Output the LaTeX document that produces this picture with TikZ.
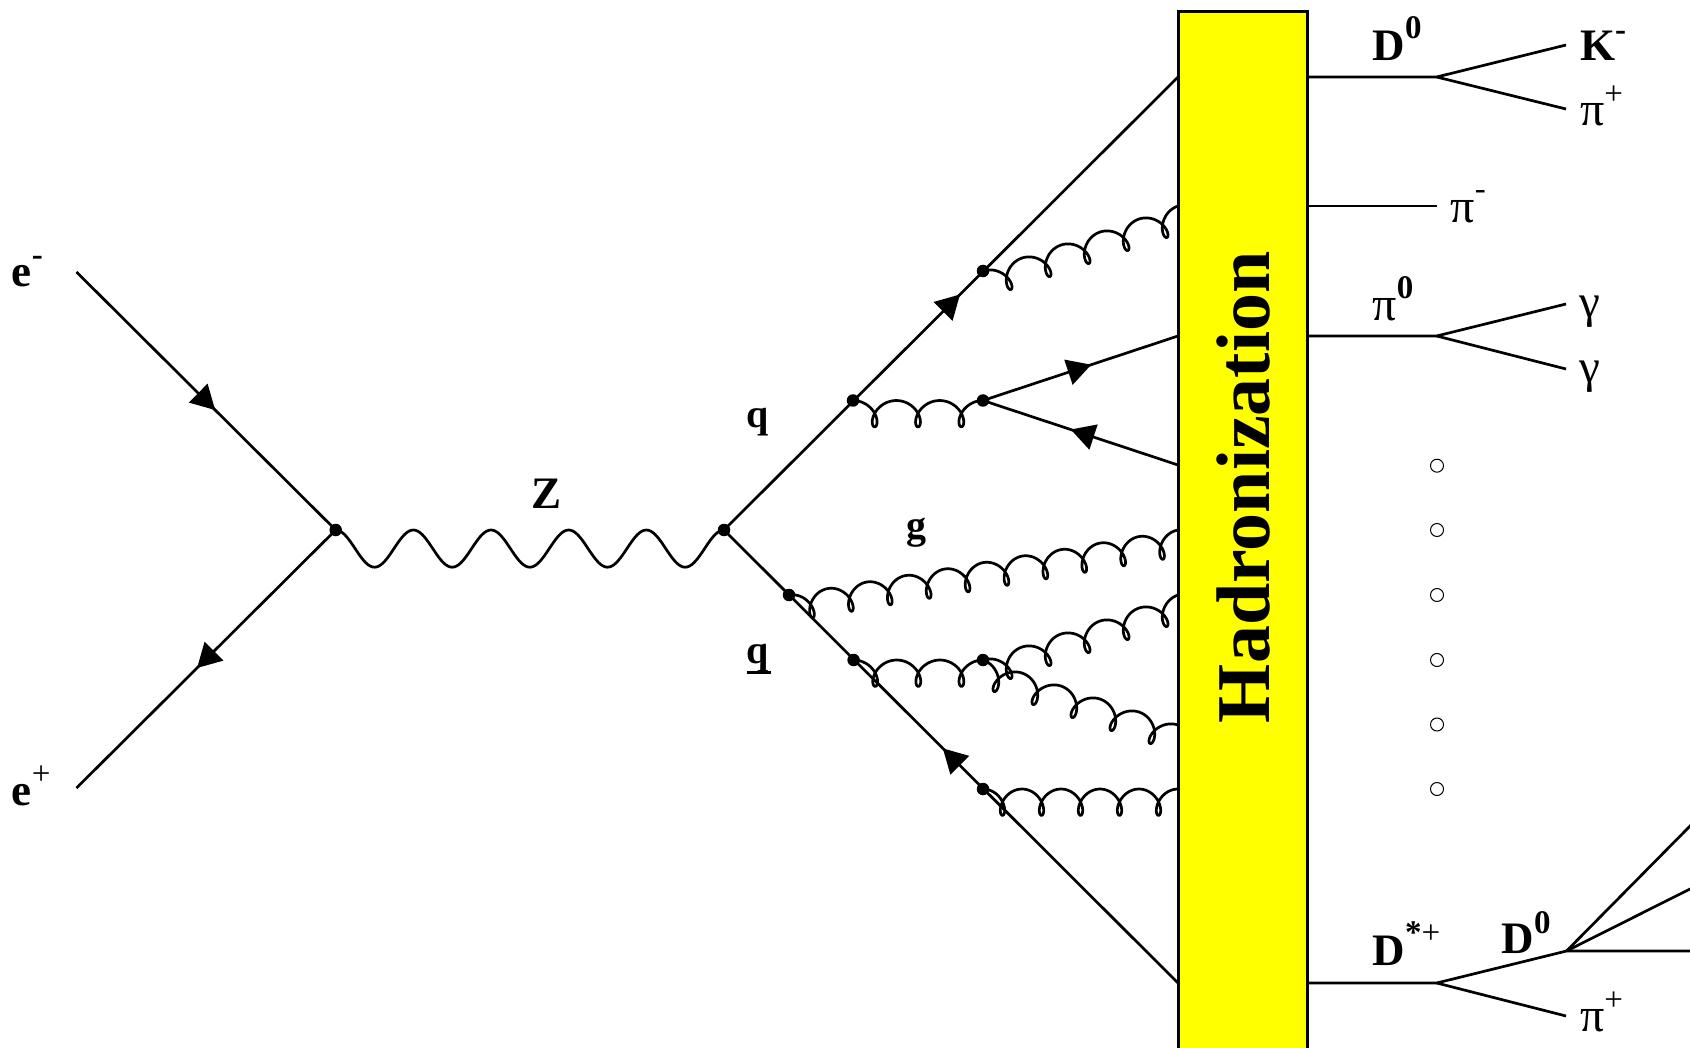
\documentclass[tikz,border=0pt]{standalone}
\usepackage{fontspec}
\setmainfont{Liberation Serif}
\usetikzlibrary{calc,arrows.meta,decorations.markings}
\definecolor{hadyellow}{RGB}{255,255,0}
\tikzset{
  feyn/.style={line width=2.7pt,line join=round,line cap=butt,black},
  qarrow/.style={postaction={decorate,decoration={markings,mark=at position #1 with {\arrow{Triangle[length=24pt,width=26pt]}}}}},
  vtx/.style={circle,fill=black,inner sep=0pt,minimum size=12.5pt},
  hollow/.style={circle,draw=black,fill=white,line width=1pt,inner sep=0pt,minimum size=13pt},
  lab/.style={anchor=base west,inner sep=0pt,outer sep=0pt,font=\fontsize{48}{48}\selectfont},
  lgam/.style={lab,font=\fontsize{47}{47}\selectfont},
  bl/.style={lab,font=\fontsize{45}{45}\selectfont\bfseries},
  blq/.style={lab,font=\fontsize{40}{40}\selectfont\bfseries},
}
\newcommand\supr[2][24pt]{\raisebox{#1}{\fontsize{33}{33}\selectfont #2}}
\newcommand\wavy[5]{%
  \path let \p1=($(#2.center)-(#1.center)$),\n1={atan2(\y1,\x1)},\n2={veclen(\x1,\y1)} in
    \pgfextra{\xdef\wang{\n1}\xdef\wlen{\n2}};
  \pgfmathsetmacro\wa{\wlen/(2*pi*#3)}%
  \pgfmathtruncatemacro\wsm{36*#3+1}%
  \begin{scope}[shift={(#1.center)},rotate=\wang,x=1pt,y=1pt]
    \draw[feyn] plot[domain=0:2*pi*#3,samples=\wsm,variable=\t] ({\wa*\t+#5*\wa*sin(\t r)},{-#4*(1-cos(\t r))});
  \end{scope}}
\newcommand\gluon[3]{\wavy{#1}{#2}{#3}{13.2}{1.6}}
\begin{document}
\begin{tikzpicture}[x=1pt,y=-1pt]
\useasboundingbox (0,0) rectangle (1690,1048);
\clip (0,0) rectangle (1690,1048);
% hadronization block
\node[draw=black,fill=hadyellow,line width=3pt,minimum width=129pt,minimum height=1100pt,inner sep=0pt,outer sep=0pt,anchor=north west] (hadron) at (1178,11.5) {};
\node[bl,rotate=90,font=\fontsize{76}{76}\selectfont\bfseries] (hadtext) at (1269,723) {Hadronization};
% vertices
\node[vtx] (vl) at (335.7,530) {};
\node[vtx] (vr) at (724,530) {};
\node[vtx] (a1) at (853,400.5) {};
\node[vtx] (a2) at (983,271) {};
\node[vtx] (a3) at (983,400.5) {};
\node[vtx] (b1) at (789,595) {};
\node[vtx] (b2) at (853.6,660) {};
\node[vtx] (b3) at (983,660) {};
\node[vtx] (b4) at (983,789) {};
% free ends
\coordinate (ein) at (76.5,272);
\coordinate (pin) at (76.5,788);
\coordinate (qt) at (1178,77);
\coordinate (qb) at (1178,983);
\coordinate (h1) at (1178,206);
\coordinate (h2) at (1178,336);
\coordinate (h3) at (1178,465);
\coordinate (h4) at (1178,530);
\coordinate (h5) at (1178,595);
\coordinate (h6) at (1178,725);
\coordinate (h7) at (1178,789);
% fermions
\draw[feyn,qarrow=0.535] (ein) -- (vl.center);
\draw[feyn,qarrow=0.535] (vl.center) -- (pin);
\draw[feyn,qarrow=0.52] (vr.center) -- (qt);
\draw[feyn,qarrow=0.518] (qb) -- (vr.center);
\draw[feyn,qarrow=0.555] (a3.center) -- (h2);
\draw[feyn,qarrow=0.55] (h3) -- (a3.center);
% Z
\wavy{vl}{vr}{5}{18.6}{0}
% gluons
\gluon{a1}{a3}{3}
\gluon{a2}{h1}{5}
\gluon{b1}{h4}{10}
\gluon{b2}{b3}{3}
\gluon{b3}{h5}{5}
\gluon{b3}{h6}{5}
\gluon{b4}{h7}{5}
% decays
\coordinate (d1) at (1307,77);
\coordinate (d1v) at (1436.7,77);
\coordinate (d1a) at (1566,45);
\coordinate (d1b) at (1566,109);
\draw[feyn] (d1) -- (d1v) -- (d1a);
\draw[feyn] (d1v) -- (d1b);
\coordinate (d2) at (1307,206);
\coordinate (d2e) at (1436.7,206);
\draw[feyn] (d2) -- (d2e);
\coordinate (d3) at (1307,336);
\coordinate (d3v) at (1436.7,336);
\coordinate (d3a) at (1566,304);
\coordinate (d3b) at (1566,369);
\draw[feyn] (d3) -- (d3v) -- (d3a);
\draw[feyn] (d3v) -- (d3b);
\coordinate (d4) at (1307,983);
\coordinate (d4v) at (1436.7,983);
\coordinate (d4a) at (1566.5,951);
\coordinate (d4b) at (1566,1016);
\coordinate (d4c) at (1695,951);
\coordinate (d4d) at (1695,886.5);
\coordinate (d4e) at (1695,821);
\draw[feyn] (d4) -- (d4v) -- (d4a) -- (d4c);
\draw[feyn] (d4v) -- (d4b);
\draw[feyn] (d4a) -- (d4d);
\draw[feyn] (d4a) -- (d4e);
% hollow dots
\node[hollow] (o1) at (1437,465.7) {};
\node[hollow] (o2) at (1437,530) {};
\node[hollow] (o3) at (1437,595) {};
\node[hollow] (o4) at (1437,660) {};
\node[hollow] (o5) at (1437,724.5) {};
\node[hollow] (o6) at (1437,789) {};
% labels
\node[bl] (le) at (12,287) {e\supr[21pt]{-}};
\node[bl] (lp) at (12,805) {e\supr[21pt]{\mdseries +}};
\node[bl] (lz) at (531.7,508) {Z};
\node[blq] (lg) at (906.7,538) {g};
\node[blq] (lq) at (746.7,428) {q};
\node[blq] (lqb) at (746.7,663) {\rlap{\rule[-10.5pt]{24pt}{3pt}}q};
\node[bl] (ld1) at (1372.7,61) {D\supr[22pt]{0}};
\node[bl] (lk) at (1580,61) {K\supr[20pt]{-}};
\node[lab] (lp1) at (1580,126) {π\supr[21pt]{+}};
\node[lab] (lpm) at (1450.7,223) {π\supr[23pt]{-}};
\node[lab] (lp0) at (1372.7,320.7) {π\supr[22pt]{\bfseries 0}};
\node[lgam] (lg1) at (1579,318) {γ};
\node[lgam] (lg2) at (1579,383) {γ};
\node[bl] (lds) at (1372.7,965.7) {D\supr[22pt]{*\mdseries +}};
\node[bl] (ld0) at (1501.7,953) {D\supr[20pt]{0}};
\node[lab] (lp2) at (1580,1031.7) {π\supr[21pt]{+}};
\end{tikzpicture}
\end{document}
